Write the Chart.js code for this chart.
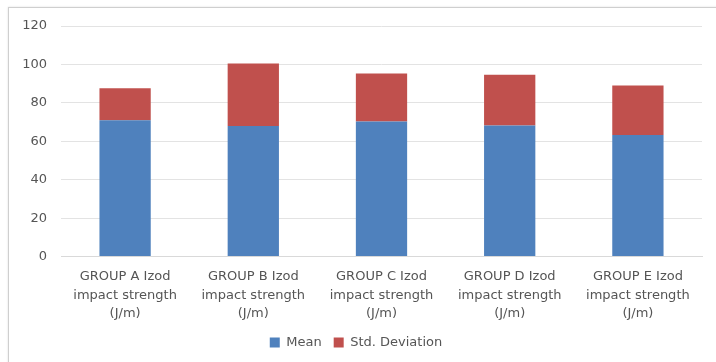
<!DOCTYPE html>
<html>
<head>
<meta charset="utf-8">
<script src="https://cdn.jsdelivr.net/npm/chart.js@4/dist/chart.umd.min.js"></script>
<style>
  html, body { margin: 0; padding: 0; background: #ffffff; overflow: hidden; }
  #wrap { position: relative; width: 716px; height: 362px; }
  #frame { position: absolute; left: 8px; top: 7px; width: 760px; height: 420px;
           border: 1px solid #cfcfcf; box-shadow: 0 0 2px #e0e0e0; box-sizing: border-box; }
  canvas { position: absolute; left: 0; top: 0; }
</style>
</head>
<body>
<div id="wrap">
  <div id="frame"></div>
  <canvas id="chart" width="716" height="362"></canvas>
</div>
<script>
const categories = [
  ["GROUP A Izod", "impact strength", "(J/m)"],
  ["GROUP B Izod", "impact strength", "(J/m)"],
  ["GROUP C Izod", "impact strength", "(J/m)"],
  ["GROUP D Izod", "impact strength", "(J/m)"],
  ["GROUP E Izod", "impact strength", "(J/m)"]
];
const meanValues = [71.0, 68.0, 70.3, 68.2, 63.3];
const stdDevValues = [16.6, 32.5, 25.0, 26.4, 25.7];
const yTicks = [0, 20, 40, 60, 80, 100, 120];

const FONT = "'DejaVu Sans', 'Liberation Sans', sans-serif";

new Chart(document.getElementById('chart'), {
  type: 'bar',
  data: {
    labels: categories,
    datasets: [
      { label: 'Mean', data: meanValues, backgroundColor: '#4F81BD', borderWidth: 0 },
      { label: 'Std. Deviation', data: stdDevValues, backgroundColor: '#C0504D', borderWidth: 0 }
    ]
  },
  options: {
    responsive: false,
    animation: false,
    devicePixelRatio: 1,
    layout: { padding: { left: 10, right: 14, top: 26, bottom: 3 } },
    datasets: { bar: { categoryPercentage: 1.0, barPercentage: 0.4 } },
    plugins: {
      legend: {
        position: 'bottom',
        labels: {
          boxWidth: 10, boxHeight: 10, padding: 12,
          color: '#555555',
          font: { family: FONT, size: 13 }
        }
      },
      tooltip: { enabled: false }
    },
    scales: {
      x: {
        stacked: true,
        // let the category labels share space with the legend's top padding
        afterFit: (axis) => { axis.height -= 10; },
        grid: { display: false, drawTicks: false },
        border: { display: true, color: '#d9d9d9' },
        ticks: {
          color: '#555555', padding: 11, maxRotation: 0, autoSkip: false,
          font: { family: FONT, size: 13, lineHeight: 1.42 }
        }
      },
      y: {
        stacked: true,
        min: 0, max: 120,
        afterBuildTicks: (axis) => { axis.ticks = yTicks.map(v => ({ value: v })); },
        afterFit: (axis) => { axis.width = 51; },
        grid: { color: '#e3e3e3', drawTicks: false },
        border: { display: false },
        ticks: {
          color: '#555555', padding: 14,
          font: { family: FONT, size: 13 }
        }
      }
    }
  }
});
</script>
</body>
</html>
